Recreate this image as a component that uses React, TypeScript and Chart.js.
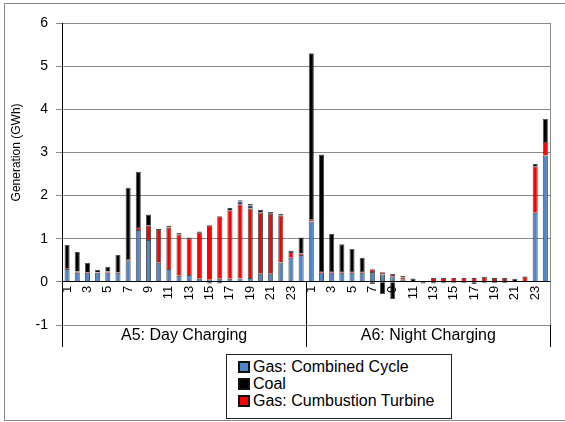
import React, { useEffect, useRef } from "react";
import { Chart, registerables } from "chart.js";

Chart.register(...registerables);

// Hour-of-day categories for each scenario
const hours = [
  "1", "2", "3", "4", "5", "6", "7", "8", "9", "10", "11", "12",
  "13", "14", "15", "16", "17", "18", "19", "20", "21", "22", "23", "24",
];
const groups = ["A5: Day Charging", "A6: Night Charging"];

// Generation by source (GWh), day-charging hours 1-24 then night-charging hours 1-24
const combinedCycle = [
  0.30, 0.21, 0.21, 0.21, 0.21, 0.21, 0.50, 1.20, 0.97, 0.44, 0.30, 0.14,
  0.16, 0.07, 0.05, 0.07, 0.07, 0.08, 0.09, 0.19, 0.19, 0.45, 0.56, 0.62,
  1.40, 0.21, 0.21, 0.21, 0.21, 0.21, 0.23, 0.17, 0.13, 0.05, 0.00, 0.00,
  0.00, 0.00, 0.00, 0.00, 0.00, 0.00, 0.00, 0.00, 0.00, 0.00, 1.60, 2.93,
];
const combustionTurbine = [
  0.02, 0.03, 0.02, 0.01, 0.03, 0.02, 0.03, 0.07, 0.34, 0.76, 0.96, 0.96,
  0.85, 1.07, 1.26, 1.45, 1.59, 1.72, 1.61, 1.42, 1.39, 1.09, 0.13, 0.04,
  0.04, 0.04, 0.04, 0.04, 0.04, 0.04, 0.06, 0.05, 0.05, 0.05, 0.00, 0.00,
  0.09, 0.09, 0.09, 0.09, 0.09, 0.12, 0.09, 0.09, 0.00, 0.12, 1.08, 0.31,
];
const otherGen = [
  0, 0, 0, 0, 0, 0, 0, 0, 0, 0, 0, 0,
  0, 0, 0, 0, 0, 0.06, 0.07, 0, 0, 0, 0, 0,
  0, 0, 0, 0, 0, 0, 0, 0, 0, 0, 0, 0,
  0, 0, 0, 0, 0, 0, 0, 0, 0, 0, 0, 0,
];
const coal = [
  0.54, 0.45, 0.21, 0.06, 0.11, 0.39, 1.65, 1.28, 0.25, 0.03, 0.04, 0.03,
  0.02, 0.03, -0.04, -0.04, 0.05, 0.03, 0.04, 0.06, 0.04, 0.04, 0.03, 0.37,
  3.86, 2.70, 0.86, 0.62, 0.51, 0.31, -0.05, -0.29, -0.40, 0.04, 0.08, -0.04,
  -0.04, -0.03, -0.03, -0.03, -0.05, -0.03, -0.03, -0.03, 0.07, 0.01, 0.05, 0.54,
];

const BLUE = "#4f86c9";
const RED = "#ff0000";
const BLACK = "#000000";
const NAVY = "#0d2f8c";
const FONT = '"Liberation Sans", Arial, sans-serif';

const categories = [...hours, ...hours];

const legendItems = [
  { label: "Gas: Combined Cycle", color: BLUE },
  { label: "Coal", color: BLACK },
  { label: "Gas: Cumbustion Turbine", color: RED },
];

// Draws the grouped category row, plot frame and the value-axis title
const groupAxisPlugin = {
  id: "groupAxis",
  afterDraw(chart: any) {
    const { ctx, chartArea, scales } = chart;
    const xs = scales.x;
    const ys = scales.y;
    const zeroY = ys.getPixelForValue(0);
    const bottom = chartArea.bottom;
    const rowBottom = bottom + 22;
    const crisp = (v: number) => Math.round(v) + 0.5;
    ctx.save();

    // right edge of the plot frame
    ctx.strokeStyle = "#8a8a8a";
    ctx.lineWidth = 1;
    ctx.beginPath();
    ctx.moveTo(crisp(chartArea.right), chartArea.top);
    ctx.lineTo(crisp(chartArea.right), bottom);
    ctx.stroke();

    ctx.strokeStyle = "#000";
    ctx.beginPath();
    ctx.moveTo(crisp(chartArea.left), bottom);
    ctx.lineTo(crisp(chartArea.left), rowBottom);
    ctx.moveTo(crisp(chartArea.right), bottom);
    ctx.lineTo(crisp(chartArea.right), rowBottom);
    for (let g = 1; g < groups.length; g++) {
      const i = g * hours.length;
      const sx = (xs.getPixelForValue(i - 1) + xs.getPixelForValue(i)) / 2;
      ctx.moveTo(crisp(sx), zeroY);
      ctx.lineTo(crisp(sx), rowBottom);
    }
    ctx.stroke();

    ctx.fillStyle = "#000";
    ctx.font = `16px ${FONT}`;
    ctx.textAlign = "center";
    ctx.textBaseline = "middle";
    groups.forEach((name, g) => {
      const first = xs.getPixelForValue(g * hours.length);
      const last = xs.getPixelForValue((g + 1) * hours.length - 1);
      ctx.fillText(name, (first + last) / 2, bottom + 11);
    });

    ctx.font = `12px ${FONT}`;
    ctx.translate(17, (chartArea.top + zeroY) / 2);
    ctx.rotate(-Math.PI / 2);
    ctx.fillText("Generation (GWh)", 0, 0);
    ctx.restore();
  },
};

export default function App() {
  const canvasRef = useRef<HTMLCanvasElement | null>(null);

  useEffect(() => {
    if (!canvasRef.current) return;
    const barStyle = {
      barPercentage: 0.5,
      categoryPercentage: 1,
      borderWidth: 1,
      borderColor: "rgba(20,20,20,0.75)",
    };
    const chart = new Chart(canvasRef.current, {
      type: "bar",
      data: {
        labels: categories,
        datasets: [
          { label: "Gas: Combined Cycle", data: combinedCycle, backgroundColor: BLUE, ...barStyle },
          { label: "Gas: Cumbustion Turbine", data: combustionTurbine, backgroundColor: RED, ...barStyle },
          { label: "Other", data: otherGen, backgroundColor: NAVY, ...barStyle },
          { label: "Coal", data: coal, backgroundColor: BLACK, ...barStyle },
        ],
      },
      options: {
        animation: false,
        responsive: false,
        layout: { padding: { top: 23, right: 5, bottom: 97, left: 0 } },
        plugins: {
          legend: { display: false },
          tooltip: { enabled: false },
        },
        scales: {
          x: {
            stacked: true,
            position: { y: 0 },
            afterFit: (scale: any) => {
              scale.height = 0;
            },
            grid: { display: false, drawTicks: false },
            border: { display: true, color: "#000", width: 1 },
            ticks: {
              autoSkip: false,
              minRotation: 90,
              maxRotation: 90,
              padding: 4,
              color: "#000",
              font: { family: FONT, size: 13 },
              callback: function (this: any, value: any) {
                const lab = this.getLabelForValue(value);
                return parseInt(lab, 10) % 2 === 1 ? lab : "";
              },
            },
          },
          y: {
            stacked: true,
            min: -1,
            max: 6,
            afterFit: (scale: any) => {
              scale.width = 62;
            },
            grid: { color: "#8a8a8a", lineWidth: 1, tickLength: 6, drawTicks: true },
            border: { display: true, color: "#000", width: 1 },
            ticks: {
              stepSize: 1,
              padding: 8,
              color: "#000",
              font: { family: FONT, size: 14 },
            },
          },
        },
      },
      plugins: [groupAxisPlugin],
    });
    return () => chart.destroy();
  }, []);

  return (
    <div style={{ position: "fixed", left: 0, top: 0, width: 565, height: 422, background: "#fff", overflow: "hidden" }}>
      <div
        style={{
          position: "absolute",
          left: 4,
          top: 3,
          width: 600,
          height: 418,
          border: "1px solid #8a8a8a",
          boxSizing: "border-box",
        }}
      />
      <canvas ref={canvasRef} width={565} height={422} style={{ position: "absolute", left: 0, top: 0 }} />
      <div
        style={{
          position: "absolute",
          left: 226,
          top: 354,
          width: 226,
          height: 65,
          border: "1px solid #222",
          boxSizing: "border-box",
          background: "#fff",
          fontFamily: FONT,
          fontSize: 16,
          color: "#000",
          paddingTop: 3,
        }}
      >
        {legendItems.map((item) => (
          <div key={item.label} style={{ display: "flex", alignItems: "center", height: 17, paddingLeft: 11 }}>
            <span
              style={{
                display: "inline-block",
                width: 12,
                height: 12,
                background: item.color,
                border: "2px solid #111",
                boxSizing: "border-box",
                marginRight: 3,
              }}
            />
            <span style={{ lineHeight: "17px" }}>{item.label}</span>
          </div>
        ))}
      </div>
    </div>
  );
}
